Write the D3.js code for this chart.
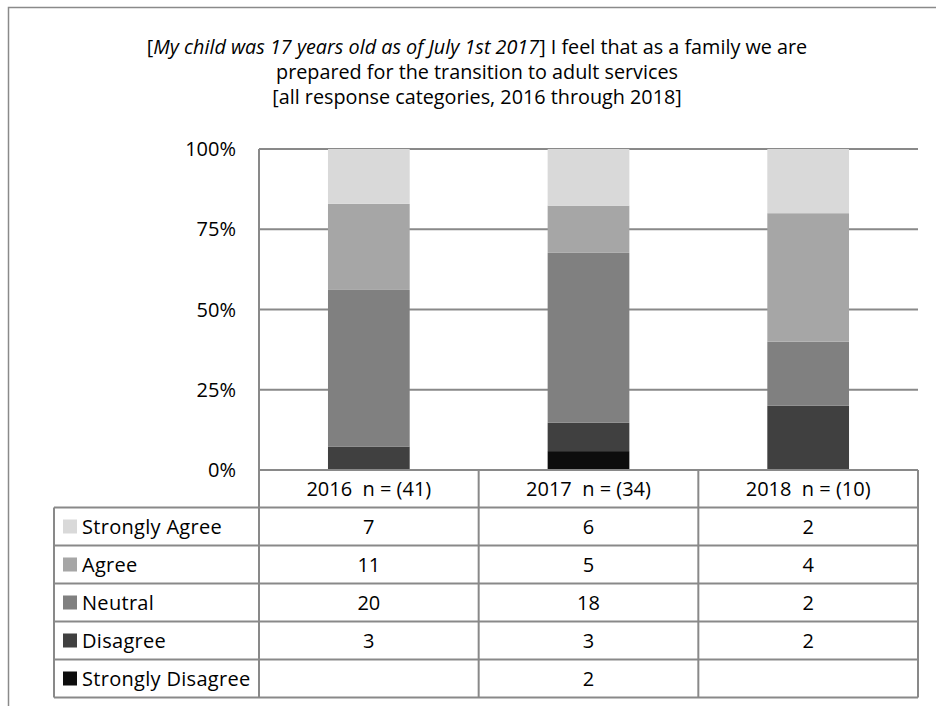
<!DOCTYPE html>
<html>
<head>
<meta charset="utf-8">
<script src="https://cdn.jsdelivr.net/npm/d3@7"></script>
<style>
  html, body { margin: 0; padding: 0; background: #fff; }
  svg { display: block; }
  text { font-family: "Open Sans", Lato, sans-serif; fill: #000; white-space: pre; }
</style>
</head>
<body>
<svg id="chart" width="936" height="706"></svg>
<script>
// ---- data ----
const years = ["2016", "2017", "2018"];
const yearLabels = ["2016  n = (41)", "2017  n = (34)", "2018  n = (10)"];
const categories = ["Strongly Agree", "Agree", "Neutral", "Disagree", "Strongly Disagree"];
const stronglyAgree = [7, 6, 2];
const agree = [11, 5, 4];
const neutral = [20, 18, 2];
const disagree = [3, 3, 2];
const stronglyDisagree = [null, 2, null];
const yTicks = [0, 0.25, 0.5, 0.75, 1];
const tickLabels = ["0%", "25%", "50%", "75%", "100%"];
const colors = ["#d9d9d9", "#a6a6a6", "#808080", "#404040", "#0d0d0d"];
const titleLines = [
  [{t: "[", i: false}, {t: "My child was 17 years old as of July 1st 2017", i: true}, {t: "] I feel that as a family we are", i: false}],
  [{t: "prepared for the transition to adult services", i: false}],
  [{t: "[all response categories, 2016 through 2018]", i: false}]
];

const seriesValues = [stronglyAgree, agree, neutral, disagree, stronglyDisagree];

// ---- layout ----
const svg = d3.select("#chart");
const plot = {left: 259, right: 918, top: 149, bottom: 470};
const table = {left: 54, headerH: 37.5, rowH: 38};
const gridColor = "#898989";
const fontSize = 20;

// outer frame
svg.append("path")
  .attr("d", "M8.5,706 L8.5,7.5 L936,7.5")
  .attr("fill", "none").attr("stroke", "#8a8a8a").attr("stroke-width", 1.5);

// title
const title = svg.append("text").attr("text-anchor", "middle").style("font-size", "19.8px");
titleLines.forEach((line, li) => {
  const tl = title.append("tspan").attr("x", 477).attr("y", 54 + li * 25);
  line.forEach(seg => {
    tl.append("tspan").text(seg.t).style("font-style", seg.i ? "italic" : "normal");
  });
});

// scales
const x = d3.scaleBand().domain(years).range([plot.left, plot.right]).paddingInner(0.628).paddingOuter(0.314);
const xCol = d3.scaleBand().domain(years).range([plot.left, plot.right]).padding(0);
const y = d3.scaleLinear().domain([0, 1]).range([plot.bottom, plot.top]);

// stacked data (bottom = Strongly Disagree)
const stackOrder = categories.slice().reverse();
const rows = years.map((yr, i) => {
  const o = {year: yr};
  categories.forEach((c, ci) => { o[c] = seriesValues[ci][i] || 0; });
  return o;
});
const stack = d3.stack().keys(stackOrder).offset(d3.stackOffsetExpand);
const stacked = stack(rows);

// gridlines
svg.append("g").selectAll("line").data(yTicks.filter(d => d > 0)).join("line")
  .attr("x1", plot.left).attr("x2", plot.right)
  .attr("y1", d => y(d)).attr("y2", d => y(d))
  .attr("stroke", gridColor).attr("stroke-width", 2);

// bars
svg.append("g").selectAll("g").data(stacked).join("g")
  .attr("fill", d => colors[categories.indexOf(d.key)])
  .selectAll("rect").data(d => d).join("rect")
  .attr("x", d => x(d.data.year))
  .attr("width", x.bandwidth())
  .attr("y", d => y(d[1]))
  .attr("height", d => y(d[0]) - y(d[1]));

// y axis line
svg.append("line").attr("x1", plot.left).attr("x2", plot.left)
  .attr("y1", plot.top).attr("y2", plot.bottom)
  .attr("stroke", gridColor).attr("stroke-width", 2);

// y tick labels
svg.append("g").selectAll("text").data(yTicks).join("text")
  .attr("x", 236).attr("y", d => y(d)).attr("dy", "0.35em")
  .attr("text-anchor", "end").style("font-size", fontSize + "px")
  .text((d, i) => tickLabels[i]);

// ---- data table ----
const tTop = plot.bottom;
const hBottom = tTop + table.headerH;
const tBottom = hBottom + table.rowH * categories.length;
const rowY = d3.scaleBand().domain(categories).range([hBottom, tBottom]);
const tg = svg.append("g");

// header cells text
tg.selectAll("text.hdr").data(years).join("text").attr("class", "hdr")
  .attr("x", d => xCol(d) + xCol.bandwidth() / 2)
  .attr("y", tTop + table.headerH / 2).attr("dy", "0.35em")
  .attr("text-anchor", "middle").style("font-size", fontSize + "px")
  .text((d, i) => yearLabels[i]);

// row labels with swatches
const rg = tg.selectAll("g.row").data(categories).join("g").attr("class", "row");
rg.append("rect")
  .attr("x", 63).attr("y", d => rowY(d) + rowY.bandwidth() / 2 - 7)
  .attr("width", 14).attr("height", 14)
  .attr("fill", (d, i) => colors[i]);
rg.append("text")
  .attr("x", 82).attr("y", d => rowY(d) + rowY.bandwidth() / 2).attr("dy", "0.35em")
  .style("font-size", fontSize + "px").style("letter-spacing", "0.3px").text(d => d);

// values
categories.forEach((c, ci) => {
  tg.append("g").selectAll("text").data(years).join("text")
    .attr("x", d => xCol(d) + xCol.bandwidth() / 2)
    .attr("y", rowY(c) + rowY.bandwidth() / 2).attr("dy", "0.35em")
    .attr("text-anchor", "middle").style("font-size", fontSize + "px")
    .text((d, i) => seriesValues[ci][i] == null ? "" : seriesValues[ci][i]);
});

// table grid lines
tg.append("line").attr("x1", plot.left).attr("x2", plot.right).attr("y1", tTop).attr("y2", tTop)
  .attr("stroke", gridColor).attr("stroke-width", 2);
tg.append("g").selectAll("line").data([hBottom].concat(categories.map(c => rowY(c) + rowY.bandwidth()))).join("line")
  .attr("x1", table.left).attr("x2", plot.right).attr("y1", d => d).attr("y2", d => d)
  .attr("stroke", gridColor).attr("stroke-width", 2);
tg.append("line").attr("x1", table.left).attr("x2", table.left).attr("y1", hBottom).attr("y2", tBottom)
  .attr("stroke", gridColor).attr("stroke-width", 2);
const vx = years.map(d => xCol(d)).concat([plot.right]);
tg.append("g").selectAll("line").data(vx).join("line")
  .attr("x1", d => d).attr("x2", d => d).attr("y1", tTop).attr("y2", tBottom)
  .attr("stroke", gridColor).attr("stroke-width", 2);
</script>
</body>
</html>
